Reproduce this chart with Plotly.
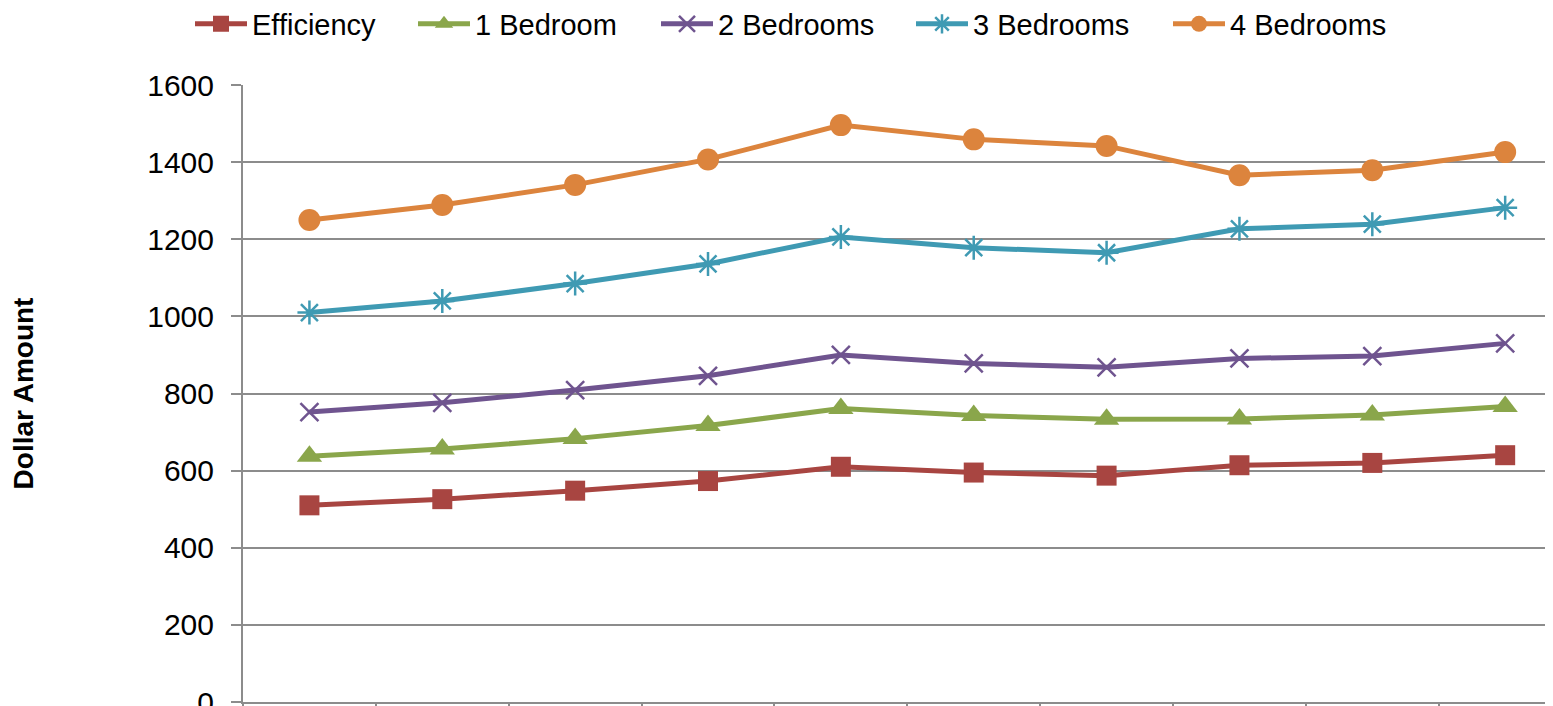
import plotly.graph_objects as go

# Category positions (x-axis has no visible labels in the reference)
periods = list(range(10))

efficiency = [510, 526, 548, 573, 610, 595, 587, 614, 620, 640]
one_bedroom = [637, 656, 683, 717, 761, 743, 733, 734, 744, 766]
two_bedrooms = [752, 776, 809, 846, 900, 878, 868, 891, 897, 930]
three_bedrooms = [1010, 1040, 1085, 1136, 1206, 1178, 1165, 1227, 1239, 1282]
four_bedrooms = [1250, 1289, 1341, 1407, 1496, 1459, 1442, 1366, 1379, 1426]

y_ticks = [0, 200, 400, 600, 800, 1000, 1200, 1400, 1600]

series = [
    ("Efficiency", efficiency, "#A84541", dict(symbol="square", size=20)),
    ("1 Bedroom", one_bedroom, "#8AA64B", dict(symbol="triangle-up", size=22)),
    ("2 Bedrooms", two_bedrooms, "#6F548F", dict(symbol="x-thin", size=18, line=dict(width=2.5, color="#6F548F"))),
    ("3 Bedrooms", three_bedrooms, "#3F9AB3", dict(symbol="asterisk", size=20, line=dict(width=2.5, color="#3F9AB3"))),
    ("4 Bedrooms", four_bedrooms, "#DC843D", dict(symbol="circle", size=22)),
]

# page has an 8px body margin: the figure is drawn 8px right / 8px down
W, H = 1545, 698
legend_marker_centers = [218, 441, 684, 939, 1196]  # page px, from reference

FONT = "Liberation Sans, Arial, sans-serif"

fig = go.Figure()
legends = {}
for i, (name, vals, color, marker) in enumerate(series):
    m = dict(color=color, **marker)
    lg = "legend" if i == 0 else f"legend{i + 1}"
    fig.add_trace(go.Scatter(
        x=periods, y=vals, name=name, mode="lines+markers",
        line=dict(color=color, width=5), marker=m, legend=lg,
    ))
    cx = legend_marker_centers[i] - 8
    legends[lg] = dict(
        orientation="h", xref="container", yref="container",
        x=(cx - 28) / W, xanchor="left",
        y=1 - 16 / H, yanchor="middle",
        font=dict(family=FONT, size=29, color="black"),
        itemwidth=52, bgcolor="rgba(0,0,0,0)", borderwidth=0,
    )

fig.update_layout(
    width=W, height=H,
    margin=dict(l=235, r=0, t=77, b=4),
    paper_bgcolor="white", plot_bgcolor="white",
    font=dict(family=FONT, size=28, color="black"),
    showlegend=True,
    xaxis=dict(
        range=[-0.5, 9.36], showgrid=False, zeroline=False,
        showline=True, linecolor="#8C8C8C", linewidth=2,
        tickmode="array", tickvals=[i - 0.5 for i in range(10)],
        showticklabels=False, ticks="outside", ticklen=10,
        tickcolor="#8C8C8C", tickwidth=2, automargin=False,
    ),
    yaxis=dict(
        range=[0, 1600], tickmode="array", tickvals=y_ticks,
        showgrid=True, gridcolor="#8C8C8C", gridwidth=2,
        zeroline=False, showline=True, linecolor="#8C8C8C", linewidth=2,
        ticks="outside", ticklen=10, tickcolor="#8C8C8C", tickwidth=2,
        tickfont=dict(family=FONT, size=30, color="black"),
        ticklabelstandoff=11, ticklabeloverflow="allow",
        title=dict(text="<b>Dollar Amount</b>", standoff=112,
                   font=dict(family=FONT, size=28, color="black")),
        automargin=False,
    ),
    **legends,
)

fig.write_html("out.html")
